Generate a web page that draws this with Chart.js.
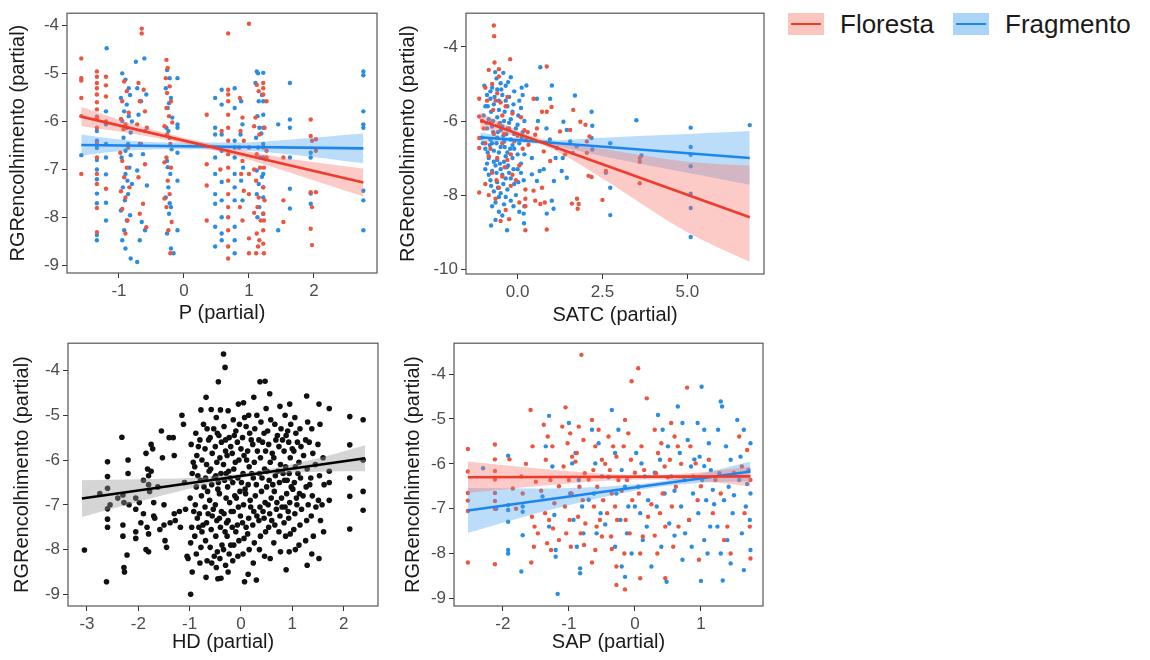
<!DOCTYPE html>
<html>
<head>
<meta charset="utf-8">
<script src="https://cdn.jsdelivr.net/npm/chart.js@4.4.1/dist/chart.umd.min.js"></script>
<style>
  body { margin: 0; background: #fff; width: 1150px; height: 660px; overflow: hidden; font-family: "Liberation Sans", Arial, sans-serif; }
  .panel { position: absolute; }
  .key { position: absolute; top: 13px; width: 36px; height: 22px; }
  .key i { position: absolute; left: 3px; right: 3px; top: 10px; height: 2px; }
  .lab { position: absolute; top: 10px; font-size: 26px; line-height: 28px; color: #1a1a1a; }
</style>
</head>
<body>
<div class="panel" style="left:0;top:0"><canvas id="pChart" width="385" height="330"></canvas></div>
<div class="panel" style="left:390px;top:0"><canvas id="sChart" width="380" height="330"></canvas></div>
<div class="panel" style="left:0;top:330px"><canvas id="hChart" width="385" height="330"></canvas></div>
<div class="panel" style="left:390px;top:330px"><canvas id="aChart" width="380" height="330"></canvas></div>

<div class="key" style="left:788px;background:#fbc5c0"><i style="background:#ee3b2b"></i></div>
<div class="lab" style="left:840px">Floresta</div>
<div class="key" style="left:953px;background:#abd5f7"><i style="background:#1c86ee"></i></div>
<div class="lab" style="left:1005px">Fragmento</div>

<script>
  // ---- P (partial) ----
  const pFloresta = [
    [-1.58,-4.69],[-1.58,-5.1],[-1.58,-5.15],[-1.58,-5.51],[-1.58,-5.89],[-1.58,-7.09],
    [-1.34,-4.96],[-1.34,-5.07],[-1.34,-5.2],[-1.34,-5.31],[-1.34,-5.44],[-1.34,-5.6],[-1.34,-5.75],[-1.34,-5.92],[-1.34,-6.13],[-1.34,-6.45],[-1.34,-6.75],[-1.34,-7.09],[-1.34,-7.3],[-1.34,-7.8],[-1.34,-8.3],
    [-1.2,-5.07],[-1.2,-5.25],[-1.2,-5.48],[-1.2,-6.0],[-1.2,-7.4],
    [-0.92,-5.17],[-0.88,-5.37],[-0.95,-5.58],[-0.85,-5.82],[-0.9,-6.06],[-0.93,-6.16],[-0.86,-6.54],[-0.95,-6.82],[-0.88,-6.96],[-0.92,-7.16],[-0.84,-7.37],[-0.9,-7.58],[-0.95,-7.82],[-0.87,-8.06],[-0.9,-8.33],
    [-0.97,-5.95],[-0.98,-6.65],[-0.97,-7.45],
    [-0.65,-4.07],[-0.65,-4.17],[-0.7,-5.2],[-0.62,-5.34],[-0.68,-5.58],[-0.6,-5.79],[-0.72,-6.06],[-0.57,-6.13],[-0.66,-6.47],[-0.6,-6.89],[-0.7,-7.16],[-0.63,-7.71],[-0.68,-7.92],[-0.58,-8.2],
    [-0.27,-4.72],[-0.25,-4.89],[-0.28,-5.1],[-0.22,-5.27],[-0.26,-5.41],[-0.2,-5.58],[-0.27,-5.72],[-0.23,-5.89],[-0.18,-6.02],[-0.26,-6.27],[-0.21,-6.47],[-0.27,-6.75],[-0.2,-6.96],[-0.25,-7.23],[-0.22,-7.51],[-0.27,-7.78],[-0.19,-8.09],[-0.24,-8.26],[-0.21,-8.74],
    [-0.3,-6.1],[-0.3,-6.85],[-0.3,-7.6],
    [0.35,-5.86],[0.35,-6.89],[0.35,-7.33],[0.35,-8.06],[0.58,-6.2],[0.56,-7.0],
    [0.68,-4.17],[0.68,-5.34],[0.68,-5.44],[0.68,-5.58],[0.68,-5.86],[0.68,-6.13],[0.68,-6.4],[0.68,-6.68],[0.68,-6.96],[0.68,-7.23],[0.68,-7.51],[0.68,-7.78],[0.68,-7.99],[0.68,-8.26],[0.68,-8.6],[0.68,-8.85],
    [0.86,-5.51],[0.9,-5.92],[0.87,-6.2],[0.92,-6.4],[0.85,-6.54],[0.9,-6.82],[0.88,-7.09],[0.92,-7.44],[0.86,-7.78],[0.9,-8.06],
    [1.0,-3.97],[1.0,-6.54],[1.0,-7.09],[1.0,-7.51],[1.0,-8.43],[1.0,-8.74],
    [1.12,-5.24],[1.15,-5.37],[1.1,-5.92],[1.16,-6.27],[1.12,-6.68],[1.17,-6.96],[1.11,-7.23],[1.15,-7.58],[1.13,-7.78],[1.18,-8.06],[1.12,-8.33],[1.16,-8.47],[1.14,-8.6],[1.11,-8.74],
    [1.08,-6.1],[1.08,-7.0],[1.08,-7.9],
    [1.22,-5.2],[1.22,-5.31],[1.22,-5.44],[1.24,-6.13],[1.22,-6.54],[1.23,-6.96],[1.22,-7.37],[1.24,-7.64],[1.22,-7.92],[1.23,-8.06],[1.22,-8.26],[1.22,-8.54],[1.23,-8.74],
    [1.27,-5.58],[1.27,-6.61],[1.27,-6.75],[1.53,-6.75],[1.53,-7.64],[1.53,-8.09],
    [1.95,-5.96],[1.95,-6.3],[1.97,-6.4],[1.95,-7.47],[1.97,-7.78],[1.95,-8.23],[1.97,-8.57],
    [2.03,-6.37],[2.03,-6.61],[2.03,-7.47]
  ];
  const pFragmento = [
    [-1.58,-6.7],
    [-1.34,-5.9],[-1.34,-6.2],[-1.34,-6.4],[-1.34,-6.55],[-1.34,-6.8],[-1.34,-7.0],[-1.34,-7.2],[-1.34,-7.5],[-1.34,-7.7],[-1.34,-8.36],[-1.34,-8.47],
    [-1.2,-5.79],[-1.2,-6.06],[-1.2,-6.47],[-1.2,-6.75],[-1.2,-7.1],[-1.2,-7.69],[-1.2,-8.06],[-1.19,-4.48],
    [-0.95,-5.0],[-0.9,-5.13],[-0.85,-5.31],[-0.97,-5.51],[-0.88,-5.65],[-0.92,-5.79],[-0.85,-5.89],[-0.95,-5.99],[-0.88,-6.13],[-0.82,-6.23],[-0.93,-6.34],[-0.86,-6.47],[-0.9,-6.61],[-0.96,-6.75],[-0.84,-6.96],[-0.9,-7.09],[-0.87,-7.23],[-0.94,-7.37],[-0.86,-7.51],[-0.91,-7.64],[-0.97,-7.85],[-0.88,-8.06],[-0.92,-8.26],[-0.95,-8.47],[-0.9,-8.64],[-0.82,-8.85],
    [-0.83,-5.45],[-0.8,-6.0],[-0.82,-6.7],[-0.8,-7.3],[-0.83,-7.95],
    [-0.74,-4.76],[-0.61,-4.69],[-0.72,-5.31],[-0.58,-5.44],[-0.66,-5.58],[-0.7,-5.86],[-0.6,-6.2],[-0.68,-6.47],[-0.63,-6.68],[-0.72,-7.02],[-0.57,-7.33],[-0.65,-8.09],[-0.6,-8.26],[-0.68,-8.47],[-0.72,-8.92],
    [-0.26,-4.93],[-0.22,-5.1],[-0.28,-5.31],[-0.2,-5.51],[-0.25,-5.72],[-0.18,-5.92],[-0.27,-6.13],[-0.22,-6.34],[-0.19,-6.58],[-0.26,-6.82],[-0.21,-7.09],[-0.24,-7.37],[-0.28,-7.58],[-0.2,-7.78],[-0.23,-7.92],[-0.26,-8.33],[-0.2,-8.64],[-0.16,-8.74],
    [-0.23,-5.62],[-0.24,-6.2],[-0.25,-6.95],[-0.22,-7.7],
    [-0.1,-5.1],[-0.1,-6.06],[-0.1,-6.13],[-0.1,-6.65],[-0.1,-7.23],[-0.1,-8.26],
    [0.48,-5.51],[0.48,-6.13],[0.48,-6.27],[0.48,-6.75],[0.48,-7.09],[0.48,-7.51],[0.48,-7.71],[0.48,-8.19],[0.48,-8.6],
    [0.58,-5.34],[0.58,-5.65],[0.58,-6.27],[0.58,-6.61],[0.58,-7.26],[0.58,-7.64],[0.58,-7.99],[0.58,-8.33],[0.58,-8.47],
    [0.78,-5.31],[0.78,-5.72],[0.78,-6.4],[0.78,-6.54],[0.78,-6.75],[0.78,-7.09],[0.78,-7.37],[0.78,-7.64],[0.78,-8.19],[0.78,-8.47],[0.78,-8.74],
    [0.88,-5.58],[0.9,-6.06],[0.87,-6.27],[0.91,-6.96],[0.88,-7.23],[0.9,-7.64],
    [1.12,-4.96],[1.14,-5.0],[1.1,-5.2],[1.15,-5.58],[1.13,-5.89],[1.16,-6.13],[1.11,-6.34],[1.14,-6.54],[1.17,-6.75],[1.12,-7.02],[1.15,-7.3],[1.12,-7.51],[1.16,-7.78],[1.13,-7.99],
    [1.22,-4.99],[1.22,-5.58],[1.22,-5.86],[1.22,-6.13],[1.22,-6.47],[1.22,-6.75],[1.22,-7.09],[1.22,-7.37],[1.22,-7.58],[1.22,-7.92],
    [1.2,-5.45],[1.19,-6.25],[1.2,-7.15],
    [1.45,-6.06],[1.45,-8.26],[1.63,-5.2],[1.63,-5.96],[1.63,-6.13],[1.63,-6.75],[1.63,-7.4],[1.63,-7.81],
    [1.95,-6.65],[1.95,-6.75],[1.95,-7.5],[1.95,-7.71],
    [2.76,-4.96],[2.76,-5.04],[2.76,-5.79],[2.76,-6.06],[2.76,-6.13],[2.76,-7.44],[2.76,-7.64],[2.76,-8.26]
  ];
  const pLineX = [-1.58, 2.76];
  const pFlorLine = [-5.9, -7.27];
  const pFragLine = [-6.49, -6.56];
  const pBandX = [-1.58, -0.8, 0, 0.8, 1.6, 2.76];
  const pFlorUpper = [-5.7, -6.05, -6.34, -6.58, -6.77, -6.98];
  const pFlorLower = [-6.1, -6.25, -6.46, -6.72, -7.05, -7.56];
  const pFragUpper = [-6.27, -6.4, -6.44, -6.44, -6.38, -6.25];
  const pFragLower = [-6.71, -6.6, -6.58, -6.6, -6.68, -6.87];
  const pXTicks = [-1, 0, 1, 2];
  const pYTicks = [-4, -5, -6, -7, -8, -9];

  // ---- SATC (partial) ----
  const sFloresta = [
    [-1.13,-5.4],[-1.13,-5.88],[-1.13,-6.46],[-1.13,-6.73],[-1.13,-7.93],[-0.7,-3.42],[-0.69,-3.71],[-0.68,-4.42],[-0.22,-4.33],
    [-0.85,-4.62],[-0.55,-4.8],[-0.75,-5.0],[-0.6,-5.25],[-0.9,-5.45],[-0.5,-5.5],[-0.3,-5.35],[-0.72,-5.7],[-0.45,-5.85],[-0.15,-5.8],
    [0.1,-5.9],[-0.8,-6.05],[-0.55,-6.1],[-0.25,-6.2],[0.0,-6.4],[0.2,-6.25],[-0.7,-6.35],[-0.45,-6.6],[-0.1,-6.55],[0.25,-6.5],
    [-0.85,-6.95],[-0.6,-7.0],[-0.3,-7.05],[0.05,-7.2],[-0.75,-7.4],[-0.45,-7.5],[-0.15,-7.45],[-0.95,-7.7],[-0.55,-7.8],[-0.2,-7.75],
    [0.23,-7.85],[0.23,-8.1],[0.23,-8.3],[-0.65,-8.1],[-0.35,-8.4],[-0.5,-8.7],[0.23,-8.95],[-0.25,-8.65],[-1.0,-6.2],[-0.95,-5.1],
    [-1.05,-6.0],[-0.95,-6.6],[-0.8,-6.75],[-0.65,-5.45],[-0.4,-6.35],[-0.35,-5.6],[-0.2,-6.9],[-0.05,-7.6],[0.15,-6.75],[-0.62,-7.6],
    [-0.38,-7.25],[-0.85,-8.0],[0.05,-8.2],[-0.55,-4.6],[0.3,-6.3],
    [0.86,-4.53],[0.47,-5.4],[0.72,-5.75],[0.86,-5.75],[1.0,-5.62],[0.57,-6.2],[0.52,-6.37],[0.32,-6.64],[0.77,-6.82],[0.96,-7.08],
    [0.72,-7.8],[0.52,-8.15],[0.67,-8.24],[0.8,-8.2],[0.86,-8.93],[0.47,-7.88],[1.25,-6.28],[1.4,-6.9],[1.55,-6.24],[1.64,-5.7],
    [1.6,-8.23],[1.75,-8.1],[1.8,-8.24],[1.77,-8.37],[2.0,-6.1],[2.12,-6.42],[2.09,-7.48],[2.18,-7.51],[2.04,-6.86],[2.5,-8.13],
    [2.6,-7.35],[3.6,-7.1],[3.6,-7.0],[3.6,-7.68],[1.85,-6.02],[2.04,-6.55]
  ];
  const sFragmento = [
    [-0.66,-4.68],[-0.2,-4.82],[-0.28,-4.95],[-0.5,-4.98],[-0.75,-5.1],[-0.6,-5.15],[-0.35,-5.05],[-0.1,-5.2],[0.26,-5.04],
    [-0.9,-5.3],[-0.8,-5.4],[-0.45,-5.3],[-0.25,-5.35],[0.05,-5.45],[0.15,-5.3],[-0.95,-5.6],[-0.7,-5.55],[-0.55,-5.7],[-0.3,-5.6],
    [-0.15,-5.75],[0.1,-5.65],[-1.0,-5.85],[-0.85,-5.95],[-0.6,-5.9],[-0.4,-6.0],[-0.2,-5.95],[0.0,-6.1],[0.2,-6.0],[-0.9,-6.2],
    [-0.75,-6.15],[-0.5,-6.25],[-0.3,-6.2],[-0.1,-6.35],[0.15,-6.3],[-1.05,-6.45],[-0.8,-6.5],[-0.6,-6.45],[-0.4,-6.55],[-0.2,-6.5],
    [0.05,-6.6],[-0.95,-6.75],[-0.7,-6.8],[-0.5,-6.7],[-0.3,-6.85],[-0.1,-6.75],[0.2,-6.9],[-0.85,-7.0],[-0.6,-7.05],[-0.4,-7.1],
    [-0.15,-7.0],[0.1,-7.15],[-0.95,-7.3],[-0.75,-7.35],[-0.5,-7.3],[-0.25,-7.4],[0.0,-7.3],[-0.8,-7.6],[-0.6,-7.65],[-0.35,-7.55],
    [-0.1,-7.7],[0.18,-7.6],[-0.7,-7.9],[-0.5,-7.95],[-0.3,-7.85],[-0.05,-8.0],[-0.65,-8.2],[-0.4,-8.25],[-0.2,-8.15],[0.2,-8.3],
    [-0.55,-8.45],[0.18,-8.5],[-0.65,-8.67],[-0.78,-8.82],[-0.31,-8.95],[0.19,-8.76],[-0.52,-6.05],[-0.42,-6.4],[-0.62,-6.6],[-0.35,-6.95],
    [-0.55,-5.45],[-0.45,-7.45],[-0.65,-7.2],[-0.25,-6.05],[-0.72,-6.3],[-0.38,-5.75],[-0.58,-7.8],[-0.15,-6.65],[-0.82,-6.65],[-0.28,-7.2],
    [-0.98,-5.05],[-0.88,-5.6],[-0.78,-5.75],[-0.68,-5.35],[-0.48,-5.15],[-0.35,-5.45],[-0.12,-5.55],[0.02,-5.85],[-0.92,-6.05],[-0.72,-6.0],
    [-0.58,-6.3],[-0.45,-6.15],[-0.33,-6.35],[-0.05,-6.2],[0.12,-6.45],[-1.02,-6.6],[-0.88,-6.85],[-0.75,-6.6],[-0.55,-6.85],[-0.38,-6.7],
    [-0.22,-6.75],[0.0,-6.9],[-0.9,-7.15],[-0.7,-7.1],[-0.52,-7.15],[-0.32,-7.25],[-0.12,-7.3],[0.1,-7.4],[-0.85,-7.45],[-0.62,-7.4],
    [-0.42,-7.7],[-0.2,-7.55],[0.02,-7.65],[-0.78,-7.75],[-0.55,-8.05],[-0.35,-8.05],[-0.12,-8.3],[-0.75,-8.3],[-0.45,-8.55],[0.05,-8.45],
    [-0.62,-4.85],[-0.42,-4.7],[-0.8,-5.2],[0.12,-5.1],
    [0.67,-4.55],[1.01,-5.04],[0.96,-5.4],[0.57,-5.4],[0.6,-6.0],[0.85,-6.2],[0.95,-6.5],[1.12,-7.0],[1.16,-6.73],[1.07,-7.62],
    [1.01,-8.15],[1.06,-8.37],[0.86,-8.5],[0.65,-7.35],[0.42,-7.0],[0.42,-7.44],[0.57,-7.62],[0.77,-7.3],[1.35,-6.02],[1.45,-6.24],
    [1.55,-6.55],[1.33,-7.0],[1.3,-7.35],[1.45,-7.53],[1.69,-5.31],[1.74,-6.68],[1.63,-6.86],[2.18,-5.75],[2.2,-6.13],[2.18,-6.46],
    [2.2,-6.77],[2.6,-7.4],[2.73,-6.6],[2.73,-7.8],[2.73,-8.54],[3.5,-5.98],[3.65,-6.93],
    [5.1,-6.18],[5.1,-6.7],[5.1,-6.91],[5.1,-7.22],[5.1,-7.96],[5.1,-8.35],[5.1,-9.13],[6.84,-6.11]
  ];
  const sLineX = [-1.1, 6.84];
  const sFlorLine = [-5.98, -8.6];
  const sFragLine = [-6.44, -7.0];
  const sBandX = [-1.1, 0, 1, 2.5, 5, 6.84];
  const sFlorUpper = [-5.76, -6.26, -6.55, -6.75, -7.1, -7.2];
  const sFlorLower = [-6.2, -6.42, -6.75, -7.55, -9.0, -9.8];
  const sFragUpper = [-6.32, -6.46, -6.52, -6.45, -6.35, -6.27];
  const sFragLower = [-6.56, -6.58, -6.66, -6.95, -7.4, -7.72];
  const sXTicks = [0, 2.5, 5];
  const sYTicks = [-4, -6, -8, -10];

  // ---- HD (partial) ----
  const hdPoints = [
    [-3.05,-8.01],[-2.62,-8.72],[-2.6,-6.04],[-2.6,-6.37],[-2.6,-6.63],[-2.6,-7.09],[-2.6,-7.32],[-2.6,-7.5],[-2.75,-6.75],[-2.32,-5.49],
    [-2.3,-6.78],[-2.28,-6.95],[-2.3,-7.45],[-2.3,-7.7],[-2.28,-8.4],[-2.27,-8.5],[-2.22,-8.12],[-2.2,-6.0],[-2.2,-6.3],[-2.18,-7.0],
    [-2.05,-6.85],[-2.05,-7.1],[-2.05,-7.6],[-2.05,-7.75],[-1.98,-6.95],[-1.9,-7.2],[-1.85,-5.85],[-1.82,-6.2],[-1.8,-6.35],[-1.8,-6.55],
    [-1.78,-6.7],[-1.83,-7.5],[-1.8,-7.65],[-1.85,-8.0],[-1.8,-8.05],[-1.75,-5.65],[-1.72,-5.75],[-1.75,-6.25],[-1.7,-6.95],[-1.7,-7.25],
    [-1.68,-7.3],[-1.62,-6.6],[-1.58,-7.55],[-1.55,-5.35],[-1.53,-5.95],[-1.5,-7.0],[-1.5,-7.45],[-1.48,-7.8],[-1.45,-7.95],[-1.4,-5.5],
    [-1.32,-5.5],[-1.3,-5.9],[-1.3,-7.2],[-1.28,-7.35],[-1.2,-7.15],[-1.18,-7.5],[-1.15,-5.0],[-1.12,-5.2],[-1.1,-6.5],[-1.08,-7.1],
    [-1.05,-8.15],[-1.03,-8.2],[-1.38,-7.4],[-1.9,-6.45],[-1.95,-7.4],[-2.4,-6.85],[-2.55,-7.0],
    [-0.97,-5.65],[-0.95,-6.3],[-0.99,-6.85],[-0.96,-7.5],[-0.98,-7.85],[-0.95,-8.5],[-0.98,-9.0],
    [-0.88,-5.4],[-0.86,-5.9],[-0.9,-6.15],[-0.87,-6.6],[-0.89,-7.0],[-0.85,-7.3],[-0.9,-7.7],[-0.87,-8.1],
    [-0.78,-4.88],[-0.8,-5.55],[-0.76,-6.0],[-0.79,-6.45],[-0.77,-6.8],[-0.81,-7.2],[-0.76,-7.6],[-0.78,-7.95],[-0.8,-8.3],
    [-0.68,-4.6],[-0.66,-5.3],[-0.7,-5.75],[-0.67,-6.1],[-0.69,-6.4],[-0.65,-6.7],[-0.7,-7.05],[-0.67,-7.4],[-0.69,-7.8],[-0.66,-8.25],[-0.68,-8.62],
    [-0.58,-4.87],[-0.6,-5.5],[-0.56,-5.85],[-0.59,-6.2],[-0.57,-6.55],[-0.61,-6.9],[-0.56,-7.25],[-0.58,-7.55],[-0.6,-7.95],[-0.57,-8.3],
    [-0.48,-5.05],[-0.46,-5.4],[-0.5,-5.7],[-0.47,-6.05],[-0.49,-6.35],[-0.45,-6.65],[-0.5,-7.0],[-0.47,-7.35],[-0.49,-7.7],[-0.46,-8.05],[-0.48,-8.4],[-0.45,-8.65],
    [-0.44,-4.25],[-0.4,-4.88],[-0.38,-5.6],[-0.41,-5.95],[-0.39,-6.3],[-0.42,-6.75],[-0.38,-7.15],[-0.4,-7.5],[-0.37,-7.9],[-0.41,-8.2],[-0.39,-8.64],
    [-0.34,-3.63],[-0.31,-3.93],[-0.33,-5.25],[-0.3,-5.8],[-0.34,-6.1],[-0.32,-6.45],[-0.29,-6.85],[-0.33,-7.2],[-0.31,-7.6],[-0.34,-8.0],[-0.3,-8.35],
    [-0.25,-4.9],[-0.23,-5.5],[-0.27,-5.9],[-0.24,-6.25],[-0.26,-6.6],[-0.22,-6.95],[-0.25,-7.35],[-0.27,-7.7],[-0.23,-8.1],[-0.25,-8.5],
    [-0.15,-5.1],[-0.13,-5.45],[-0.17,-5.85],[-0.14,-6.2],[-0.16,-6.5],[-0.12,-6.8],[-0.15,-7.15],[-0.17,-7.5],[-0.14,-7.9],[-0.16,-8.25],
    [-0.05,-4.75],[-0.03,-5.2],[-0.07,-5.6],[-0.04,-6.0],[-0.06,-6.4],[-0.02,-6.7],[-0.05,-7.05],[-0.07,-7.45],[-0.04,-7.8],[-0.06,-8.15],
    [0.05,-4.72],[0.07,-5.05],[0.03,-5.5],[0.06,-5.9],[0.04,-6.3],[0.08,-6.65],[0.05,-7.0],[0.03,-7.4],[0.06,-7.75],[0.04,-8.1],[0.07,-8.72],
    [0.15,-5.0],[0.17,-5.4],[0.13,-5.8],[0.16,-6.15],[0.14,-6.55],[0.18,-6.9],[0.15,-7.3],[0.13,-7.65],[0.16,-8.0],[0.14,-8.55],
    [0.25,-4.6],[0.27,-5.3],[0.23,-5.65],[0.26,-6.05],[0.24,-6.4],[0.28,-6.8],[0.25,-7.15],[0.23,-7.45],[0.26,-7.85],[0.24,-8.3],[0.3,-8.68],
    [0.37,-4.25],[0.39,-5.15],[0.35,-5.55],[0.38,-5.95],[0.36,-6.3],[0.4,-6.7],[0.37,-7.05],[0.35,-7.35],[0.38,-7.7],[0.36,-8.0],
    [0.47,-4.24],[0.49,-4.85],[0.45,-5.4],[0.48,-5.8],[0.46,-6.2],[0.5,-6.6],[0.47,-6.95],[0.45,-7.3],[0.48,-7.6],[0.46,-8.15],
    [0.56,-4.52],[0.58,-5.1],[0.54,-5.65],[0.57,-6.05],[0.55,-6.45],[0.59,-6.85],[0.56,-7.2],[0.54,-7.5],[0.57,-8.2],
    [0.66,-5.2],[0.68,-5.55],[0.64,-5.95],[0.67,-6.35],[0.65,-6.7],[0.69,-7.1],[0.66,-7.45],[0.64,-7.85],
    [0.76,-4.8],[0.78,-5.3],[0.74,-5.7],[0.77,-6.1],[0.75,-6.5],[0.79,-6.85],[0.76,-7.25],[0.74,-7.6],[0.77,-8.05],
    [0.86,-5.0],[0.88,-5.45],[0.84,-5.8],[0.87,-6.15],[0.85,-6.45],[0.89,-6.75],[0.86,-7.05],[0.84,-7.4],[0.87,-7.7],[0.88,-8.45],
    [0.95,-4.75],[0.97,-5.2],[0.93,-5.6],[0.96,-5.95],[0.94,-6.3],[0.98,-6.6],[0.95,-6.95],[0.93,-7.3],[0.96,-7.65],[0.94,-8.05],
    [1.05,-5.05],[1.07,-5.4],[1.03,-5.8],[1.06,-6.15],[1.04,-6.5],[1.08,-6.85],[1.05,-7.2],[1.03,-7.55],[1.06,-8.0],
    [1.15,-5.3],[1.17,-5.7],[1.13,-6.05],[1.16,-6.4],[1.14,-6.75],[1.18,-7.1],[1.15,-7.45],[1.13,-7.9],
    [1.28,-4.57],[1.3,-5.15],[1.26,-5.55],[1.29,-6.2],[1.27,-6.6],[1.31,-7.0],[1.28,-7.35],[1.26,-7.8],[1.29,-8.35],
    [1.38,-5.3],[1.4,-5.85],[1.36,-6.4],[1.39,-6.8],[1.37,-7.25],[1.41,-7.7],[1.38,-8.1],
    [1.52,-4.75],[1.54,-5.2],[1.5,-5.65],[1.53,-6.35],[1.51,-6.9],[1.55,-7.35],[1.52,-8.2],
    [1.6,-5.95],[1.62,-6.55],[1.58,-7.0],[1.61,-7.6],[1.72,-4.85],[1.72,-6.25],[1.72,-6.5],[1.72,-6.9],
    [2.12,-5.03],[2.12,-5.66],[2.12,-6.4],[2.12,-6.81],[2.12,-7.54],[2.38,-5.1],[2.38,-6.0],[2.38,-6.7],[2.38,-7.12],
    [-0.93,-6.05],[-0.92,-7.15],[-0.83,-5.7],[-0.84,-6.35],[-0.82,-7.5],[-0.73,-5.2],[-0.72,-6.6],[-0.74,-7.45],[-0.63,-5.55],[-0.62,-6.25],
    [-0.64,-7.2],[-0.53,-5.3],[-0.52,-6.4],[-0.54,-7.1],[-0.52,-8.15],[-0.43,-5.45],[-0.44,-6.5],[-0.42,-7.3],[-0.3,-5.55],[-0.29,-6.3],
    [-0.28,-7.4],[-0.2,-5.7],[-0.21,-6.4],[-0.19,-7.15],[-0.2,-7.9],[-0.1,-5.35],[-0.11,-6.05],[-0.09,-6.85],[-0.1,-7.6],[0.0,-5.75],
    [0.01,-6.5],[-0.01,-7.25],[0.1,-5.25],[0.11,-6.0],[0.09,-6.75],[0.1,-7.5],[0.2,-5.55],[0.21,-6.3],[0.19,-7.05],[0.31,-5.0],
    [0.32,-5.8],[0.3,-6.55],[0.31,-7.25],[0.42,-5.6],[0.41,-6.4],[0.43,-7.15],[0.52,-5.35],[0.51,-6.25],[0.53,-7.0],[0.61,-5.85],
    [0.62,-6.55],[0.6,-7.35],[0.71,-5.45],[0.72,-6.25],[0.7,-6.95],[0.81,-5.55],[0.82,-6.3],[0.8,-7.05],[0.91,-5.35],[0.9,-6.45],
    [0.92,-7.15],[1.0,-5.75],[1.01,-6.65],[1.1,-5.6],[1.11,-6.3],[1.09,-7.0],[1.22,-5.9],[1.21,-6.8],[1.33,-5.6],[1.34,-6.55],
    [1.45,-6.1],[1.46,-7.05]
  ];
  const hLineX = [-3.1, 2.42];
  const hLineY = [-6.86, -5.96];
  const hBandX = [-3.1, -2, -1, -0.3, 0.5, 1.5, 2.42];
  const hUpper = [-6.45, -6.43, -6.4, -6.34, -6.21, -5.96, -5.67];
  const hLower = [-7.27, -6.93, -6.64, -6.46, -6.33, -6.26, -6.25];
  const hXTicks = [-3, -2, -1, 0, 1, 2];
  const hYTicks = [-4, -5, -6, -7, -8, -9];

  // ---- SAP (partial) ----
  const aFloresta = [
    [-2.53,-5.67],[-2.53,-6.17],[-2.53,-6.65],[-2.53,-6.82],[-2.53,-7.05],[-2.53,-8.2],
    [-2.12,-5.57],[-2.12,-5.9],[-2.12,-6.16],[-2.12,-6.35],[-2.12,-6.65],[-2.12,-6.83],[-2.12,-7.0],[-2.12,-8.24],
    [-1.85,-6.55],[-1.8,-7.0],[-1.72,-6.28],[-1.7,-6.66],
    [-1.58,-4.8],[-1.55,-5.61],[-1.5,-6.4],[-1.56,-7.18],[-1.52,-7.4],[-1.47,-7.55],[-1.53,-7.85],[-1.57,-8.2],
    [-1.38,-5.13],[-1.32,-5.39],[-1.25,-5.61],[-1.35,-5.91],[-1.28,-6.36],[-1.22,-6.88],[-1.36,-7.1],[-1.3,-7.25],[-1.24,-7.44],[-1.33,-7.77],[-1.27,-7.92],
    [-1.05,-4.74],[-1.1,-5.17],[-0.98,-5.32],[-1.02,-5.54],[-0.95,-5.84],[-1.08,-6.06],[-1.0,-6.36],[-0.96,-6.66],[-1.06,-6.95],[-0.99,-7.25],[-1.04,-7.55],[-0.97,-7.85],
    [-0.81,-3.57],[-0.85,-5.17],[-0.78,-5.47],[-0.88,-5.76],[-0.76,-6.21],[-0.84,-6.51],[-0.79,-6.81],[-0.86,-7.18],[-0.75,-7.33],[-0.82,-7.55],[-0.77,-7.81],
    [-0.65,-5.02],[-0.55,-5.24],[-0.6,-5.61],[-0.5,-5.91],[-0.63,-6.14],[-0.57,-6.51],[-0.48,-6.81],[-0.62,-6.95],[-0.53,-7.25],[-0.58,-7.4],[-0.5,-7.62],[-0.6,-7.92],
    [-0.4,-5.39],[-0.33,-5.61],[-0.28,-5.84],[-0.38,-6.14],[-0.25,-6.36],[-0.35,-6.66],[-0.3,-6.95],[-0.42,-7.1],[-0.27,-7.25],[-0.36,-7.62],[-0.28,-8.29],[-0.28,-8.7],
    [-0.05,-4.16],[-0.15,-5.02],[-0.1,-5.32],[-0.17,-5.61],[-0.06,-5.91],[-0.12,-6.36],[-0.04,-6.81],[-0.14,-7.25],[-0.08,-7.55],[-0.16,-8.0],[-0.15,-8.8],
    [0.05,-3.87],[0.18,-4.54],[0.1,-5.61],[0.14,-6.14],[0.06,-6.66],[0.2,-7.18],[0.12,-7.62],[0.08,-8.0],[0.08,-8.55],
    [0.3,-5.24],[0.4,-5.54],[0.35,-5.76],[0.45,-6.06],[0.32,-6.21],[0.42,-6.66],[0.38,-7.1],[0.46,-7.4],[0.34,-8.0],[0.46,-8.55],
    [0.55,-5.09],[0.6,-5.39],[0.65,-5.61],[0.53,-5.91],[0.62,-6.51],[0.56,-6.95],[0.66,-7.4],[0.58,-7.85],
    [0.79,-4.3],[0.84,-5.61],[0.92,-5.99],[0.88,-6.28],[0.95,-6.81],[0.82,-7.25],[0.97,-8.14],
    [1.12,-5.91],[1.22,-6.36],[1.3,-6.66],[1.18,-7.1],[1.4,-7.4],[1.35,-7.7],[1.45,-8.0],
    [1.58,-5.39],[1.7,-5.69],[1.62,-6.06],[1.75,-6.36],[1.66,-7.1],[1.74,-7.4],[1.75,-8.11],
    [-1.9,-5.9],[-1.65,-6.0],[-1.42,-6.6],[-1.15,-6.5],[-0.9,-5.95],[-0.7,-6.35],[-0.45,-6.0],[-0.2,-6.6],[0.0,-6.2],[0.25,-6.9],
    [0.5,-6.3],[0.7,-6.0],[1.0,-6.5],[1.5,-6.2],[-0.35,-7.9],[-0.65,-8.2],[0.3,-7.6],[-1.15,-7.7]
  ];
  const aFragmento = [
    [-1.92,-5.82],[-1.92,-6.92],[-1.92,-7.03],[-1.92,-7.29],[-1.92,-7.92],[-1.92,-8.0],[-2.3,-6.1],[-2.1,-7.0],
    [-1.7,-6.95],[-1.7,-7.07],[-1.7,-7.59],[-1.72,-8.4],
    [-1.3,-4.93],[-1.35,-5.61],[-1.25,-6.06],[-1.4,-6.73],[-1.22,-7.14],[-1.3,-7.4],[-1.2,-7.92],[-1.2,-8.07],[-1.17,-8.9],
    [-1.0,-5.09],[-0.9,-5.76],[-0.95,-5.99],[-0.85,-6.36],[-0.98,-6.66],[-0.8,-6.95],[-0.93,-7.25],[-0.78,-7.55],[-0.88,-7.85],[-0.83,-8.33],[-0.83,-8.44],
    [-0.65,-5.24],[-0.55,-5.54],[-0.6,-5.99],[-0.5,-6.28],[-0.62,-6.66],[-0.52,-7.1],[-0.58,-7.55],
    [-0.35,-4.8],[-0.25,-5.24],[-0.3,-5.76],[-0.2,-6.14],[-0.15,-6.51],[-0.28,-6.66],[-0.1,-6.95],[-0.22,-7.25],[-0.12,-7.55],[-0.3,-7.85],[-0.05,-8.0],[-0.2,-8.29],[-0.15,-8.52],
    [0.02,-5.76],[0.1,-5.99],[0.15,-6.28],[0.05,-6.51],[0.2,-6.81],[0.08,-7.1],[0.18,-7.4],[0.12,-7.7],[0.25,-8.29],
    [0.35,-4.91],[0.42,-5.24],[0.5,-5.61],[0.38,-5.91],[0.55,-6.28],[0.45,-6.66],[0.33,-6.95],[0.52,-7.33],[0.4,-7.85],[0.48,-8.63],
    [0.65,-4.72],[0.72,-5.09],[0.8,-5.47],[0.68,-5.76],[0.85,-6.06],[0.75,-6.36],[0.88,-6.66],[0.7,-6.95],[0.82,-7.25],[0.76,-7.55],[0.86,-7.85],[0.72,-8.14],
    [1.01,-4.28],[0.95,-5.09],[1.05,-5.24],[1.12,-5.54],[0.98,-5.84],[1.15,-6.14],[1.02,-6.36],[1.18,-6.58],[1.08,-6.81],[0.96,-7.1],[1.14,-7.4],[1.05,-7.7],[1.1,-8.0],[1.0,-8.61],
    [1.3,-4.61],[1.32,-4.72],[1.26,-5.24],[1.38,-5.61],[1.45,-5.91],[1.28,-6.21],[1.42,-6.51],[1.35,-6.81],[1.48,-7.1],[1.25,-7.4],[1.4,-7.7],[1.3,-8.0],[1.45,-8.22],[1.33,-8.6],
    [1.55,-5.02],[1.65,-5.24],[1.75,-5.54],[1.6,-5.84],[1.72,-6.14],[1.58,-6.36],[1.75,-6.66],[1.68,-6.95],[1.74,-7.25],[1.62,-7.55],[1.75,-7.92],[1.65,-8.37],
    [-0.7,-6.8],[-0.4,-6.3],[0.0,-6.95],[0.3,-6.2],[0.6,-6.6],[0.9,-5.9],[1.2,-6.9],[1.5,-6.7],[1.7,-6.45],[1.05,-6.05],
    [0.6,-7.6],[-0.45,-7.35]
  ];
  const aLineX = [-2.53, 1.75];
  const aFlorLine = [-6.3, -6.28];
  const aFragLine = [-7.04, -6.17];
  const aBandX = [-2.53, -1.5, -0.5, 0.3, 1.0, 1.75];
  const aFlorUpper = [-5.95, -6.1, -6.22, -6.25, -6.19, -6.06];
  const aFlorLower = [-6.65, -6.5, -6.38, -6.35, -6.39, -6.5];
  const aFragUpper = [-6.54, -6.55, -6.51, -6.41, -6.22, -5.95];
  const aFragLower = [-7.54, -7.11, -6.75, -6.53, -6.42, -6.39];
  const aXTicks = [-2, -1, 0, 1];
  const aYTicks = [-4, -5, -6, -7, -8, -9];

  // ---- styling ----
  const family = '"Liberation Sans", Arial, sans-serif';
  const redPt = '#ec5640', bluePt = '#2b8de2';
  const redLine = '#ee3b2b', blueLine = '#1c86ee';
  const redBand = 'rgba(248, 118, 109, 0.38)', blueBand = 'rgba(70, 160, 240, 0.36)';

  const pts = arr => arr.map(([x, y]) => ({ x, y }));
  const xy = (xs, ys) => xs.map((x, i) => ({ x, y: ys[i] }));

  function scatterSet(data, color, r) {
    return { type: 'scatter', data: pts(data), backgroundColor: color, borderWidth: 0, pointRadius: r, order: 3 };
  }
  function bandSets(xs, upper, lower, color) {
    return [
      { type: 'line', data: xy(xs, upper), borderColor: 'rgba(0,0,0,0)', borderWidth: 0, pointRadius: 0,
        fill: '+1', backgroundColor: color, cubicInterpolationMode: 'monotone', order: 2 },
      { type: 'line', data: xy(xs, lower), borderColor: 'rgba(0,0,0,0)', borderWidth: 0, pointRadius: 0,
        fill: false, cubicInterpolationMode: 'monotone', order: 2 }
    ];
  }
  function lineSet(xs, ys, color) {
    return { type: 'line', data: xy(xs, ys), borderColor: color, borderWidth: 2.6, pointRadius: 0, fill: false, order: 1 };
  }

  const frame = {
    id: 'frame',
    afterDraw(chart) {
      const { ctx, chartArea: a } = chart;
      ctx.save();
      ctx.strokeStyle = '#555';
      ctx.lineWidth = 1.2;
      ctx.strokeRect(a.left, a.top, a.right - a.left, a.bottom - a.top);
      ctx.restore();
    }
  };

  function makeScale(min, max, tickVals, title, size, titlePad, fmt, horizontal) {
    return {
      type: 'linear', min, max,
      afterBuildTicks: s => { s.ticks = tickVals.map(v => ({ value: v })); },
      afterFit: s => { if (horizontal) s.height = size; else s.width = size; },
      grid: { drawOnChartArea: false, drawTicks: true, tickLength: 5, color: '#333' },
      border: { display: false },
      ticks: { color: '#4d4d4d', font: { size: 17, family }, padding: 3, autoSkip: false, maxRotation: 0, callback: v => fmt(v) },
      title: { display: true, text: title, color: '#1a1a1a', font: { size: 20, family }, padding: titlePad }
    };
  }

  function makeChart(id, datasets, pad, xs, ys) {
    new Chart(document.getElementById(id), {
      type: 'scatter',
      data: { datasets },
      options: {
        responsive: false, animation: false, events: [],
        layout: { padding: pad },
        plugins: { legend: { display: false }, tooltip: { enabled: false } },
        scales: { x: xs, y: ys }
      },
      plugins: [frame]
    });
  }

  const num = v => String(v);
  const dec = v => v.toFixed(1);

  makeChart('pChart', [
    scatterSet(pFloresta, redPt, 2.2), scatterSet(pFragmento, bluePt, 2.2),
    ...bandSets(pBandX, pFlorUpper, pFlorLower, redBand),
    ...bandSets(pBandX, pFragUpper, pFragLower, blueBand),
    lineSet(pLineX, pFlorLine, redLine), lineSet(pLineX, pFragLine, blueLine)
  ], { top: 11, right: 8, left: 0, bottom: 0 },
    makeScale(-1.8, 2.97, pXTicks, 'P (partial)', 57, { top: 0, bottom: 5 }, num, true),
    makeScale(-9.15, -3.75, pYTicks, 'RGRencolhimento (partial)', 67, { top: 6, bottom: 0 }, num, false));

  makeChart('sChart', [
    scatterSet(sFloresta, redPt, 2.2), scatterSet(sFragmento, bluePt, 2.2),
    ...bandSets(sBandX, sFlorUpper, sFlorLower, redBand),
    ...bandSets(sBandX, sFragUpper, sFragLower, blueBand),
    lineSet(sLineX, sFlorLine, redLine), lineSet(sLineX, sFragLine, blueLine)
  ], { top: 10, right: 6, left: 0, bottom: 0 },
    makeScale(-1.52, 7.26, sXTicks, 'SATC (partial)', 56, { top: 0, bottom: 3 }, dec, true),
    makeScale(-10.13, -3.09, sYTicks, 'RGRencolhimento (partial)', 76, { top: 6, bottom: 0 }, num, false));

  makeChart('hChart', [
    scatterSet(hdPoints, '#111', 2.8),
    ...bandSets(hBandX, hUpper, hLower, 'rgba(150,150,150,0.4)'),
    lineSet(hLineX, hLineY, '#000')
  ], { top: 13, right: 7, left: 0, bottom: 0 },
    makeScale(-3.37, 2.67, hXTicks, 'HD (partial)', 54, { top: 0, bottom: 6 }, num, true),
    makeScale(-9.26, -3.39, hYTicks, 'RGRencolhimento (partial)', 68, { top: 10, bottom: 0 }, num, false));

  makeChart('aChart', [
    scatterSet(aFloresta, redPt, 2.2), scatterSet(aFragmento, bluePt, 2.2),
    ...bandSets(aBandX, aFlorUpper, aFlorLower, redBand),
    ...bandSets(aBandX, aFragUpper, aFragLower, blueBand),
    lineSet(aLineX, aFlorLine, redLine), lineSet(aLineX, aFragLine, blueLine)
  ], { top: 13, right: 7, left: 0, bottom: 0 },
    makeScale(-2.74, 1.94, aXTicks, 'SAP (partial)', 54, { top: 0, bottom: 6 }, num, true),
    makeScale(-9.17, -3.31, aYTicks, 'RGRencolhimento (partial)', 64, { top: 11, bottom: 0 }, num, false));
</script>
</body>
</html>
